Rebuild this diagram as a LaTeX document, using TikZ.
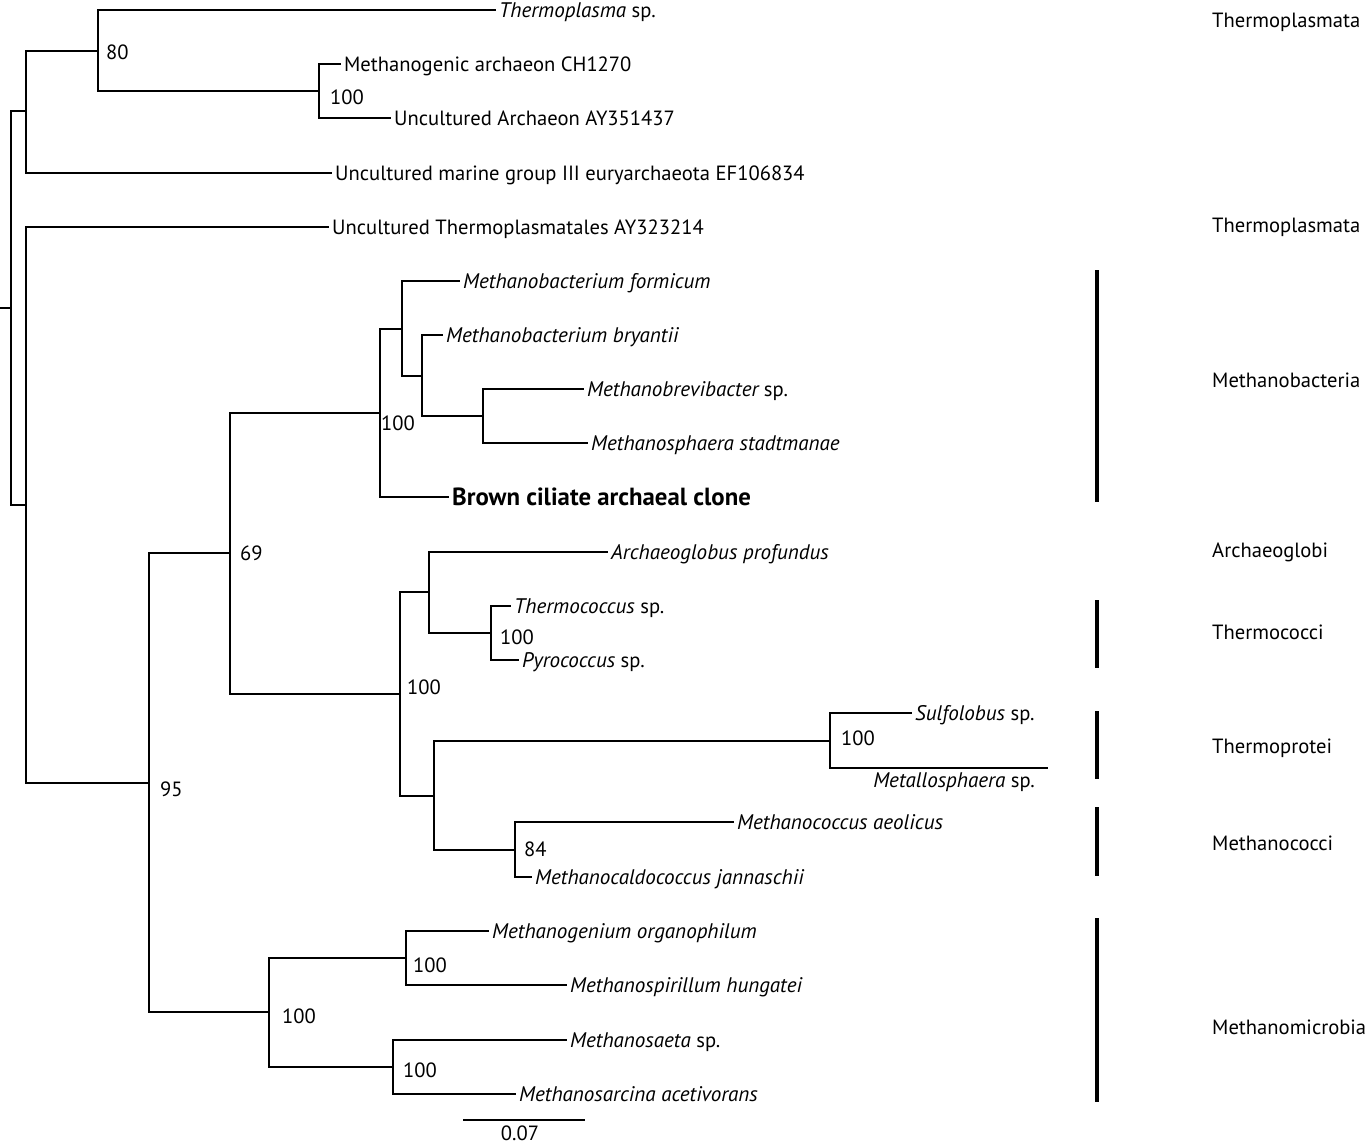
\documentclass[tikz,border=0pt]{standalone}
\usepackage{fontspec}
\setmainfont{PT Sans}
\newcommand{\gen}[1]{{\fontsize{21.1}{24}\selectfont\itshape #1}}
\begin{document}
\begin{tikzpicture}[x=1pt,y=-1pt,
  br/.style={line width=1.4pt, line cap=rect},
  leaf/.style={anchor=base west, inner xsep=4pt, inner ysep=0pt, yshift=-7pt, font=\fontsize{20.6}{24}\selectfont},
  bs/.style={anchor=west, inner sep=0pt, font=\fontsize{20.6}{24}\selectfont},
  grp/.style={anchor=west, inner sep=0pt, font=\fontsize{20.6}{24}\selectfont},
  bar/.style={line width=3.6pt}]
\useasboundingbox (0,0) rectangle (1370,1144);
% internal nodes
\coordinate (stub) at (0,308);
\coordinate (root) at (11,308);
\coordinate (nA) at (26,111);
\coordinate (n80) at (98,51);
\coordinate (nCH) at (319,91);
\coordinate (nB) at (26,505);
\coordinate (n95) at (149,783);
\coordinate (n69) at (230,553);
\coordinate (nMB) at (380,413);
\coordinate (nMB1) at (402,329);
\coordinate (nMB2) at (422,376);
\coordinate (nMB3) at (483,416);
\coordinate (nL) at (400,694);
\coordinate (nAr) at (429,592);
\coordinate (nTc) at (491,633);
\coordinate (nLo) at (434,796);
\coordinate (nSu) at (830,741);
\coordinate (nMc) at (515,850);
\coordinate (nMm) at (269,1012);
\coordinate (nMm1) at (406,958);
\coordinate (nMm2) at (393,1067);
% leaf ends
\coordinate (eTp) at (495,10);
\coordinate (eCH) at (340,64);
\coordinate (eUA) at (390,118);
\coordinate (eMG) at (331,173);
\coordinate (eUT) at (328,227);
\coordinate (eMf) at (459,281);
\coordinate (eMbr) at (442,335);
\coordinate (eMbv) at (583,389);
\coordinate (eMs) at (587,443);
\coordinate (eBc) at (448,497);
\coordinate (eAp) at (607,552);
\coordinate (eTc) at (510,606);
\coordinate (ePy) at (518,660);
\coordinate (eSu) at (911,713);
\coordinate (eMe) at (1047,768);
\coordinate (eMa) at (733,822);
\coordinate (eMj) at (531,877);
\coordinate (eMo) at (488,931);
\coordinate (eMh) at (566,985);
\coordinate (eMsa) at (566,1040);
\coordinate (eMac) at (515,1094);
% leaf labels
\node[leaf] (lTp) at (eTp) {\gen{Thermoplasma} sp.};
\node[leaf] (lCH) at (eCH) {Methanogenic archaeon CH1270};
\node[leaf] (lUA) at (eUA) {Uncultured Archaeon AY351437};
\node[leaf] (lMG) at (eMG) {Uncultured marine group III euryarchaeota EF106834};
\node[leaf] (lUT) at (eUT) {Uncultured Thermoplasmatales AY323214};
\node[leaf] (lMf) at (eMf) {\gen{Methanobacterium formicum}};
\node[leaf] (lMbr) at (eMbr) {\gen{Methanobacterium bryantii}};
\node[leaf] (lMbv) at (eMbv) {\gen{Methanobrevibacter} sp.};
\node[leaf] (lMs) at (eMs) {\gen{Methanosphaera stadtmanae}};
\node[leaf, yshift=-1pt, font=\fontsize{24.8}{28}\selectfont\bfseries] (lBc) at (eBc) {Brown ciliate archaeal clone};
\node[leaf] (lAp) at (eAp) {\gen{Archaeoglobus profundus}};
\node[leaf] (lTc) at (eTc) {\gen{Thermococcus} sp.};
\node[leaf] (lPy) at (ePy) {\gen{Pyrococcus} sp.};
\node[leaf] (lSu) at (eSu) {\gen{Sulfolobus} sp.};
\node[anchor=north east, inner sep=0pt, font=\fontsize{20.6}{24}\selectfont] (lMe) at ([xshift=-12pt,yshift=-5pt]eMe) {\gen{Metallosphaera} sp.};
\node[leaf] (lMa) at (eMa) {\gen{Methanococcus aeolicus}};
\node[leaf] (lMj) at (eMj) {\gen{Methanocaldococcus jannaschii}};
\node[leaf] (lMo) at (eMo) {\gen{Methanogenium organophilum}};
\node[leaf] (lMh) at (eMh) {\gen{Methanospirillum hungatei}};
\node[leaf] (lMsa) at (eMsa) {\gen{Methanosaeta} sp.};
\node[leaf] (lMac) at (eMac) {\gen{Methanosarcina acetivorans}};
% branches
\draw[br] (stub) -- (root);
\draw[br] (root) |- (nA);
\draw[br] (root) |- (nB);
\draw[br] (nA) |- (n80);
\draw[br] (nA) |- (eMG);
\draw[br] (n80) |- (eTp);
\draw[br] (n80) |- (nCH);
\draw[br] (nCH) |- (eCH);
\draw[br] (nCH) |- (eUA);
\draw[br] (nB) |- (eUT);
\draw[br] (nB) |- (n95);
\draw[br] (n95) |- (n69);
\draw[br] (n95) |- (nMm);
\draw[br] (n69) |- (nMB);
\draw[br] (n69) |- (nL);
\draw[br] (nMB) |- (nMB1);
\draw[br] (nMB) |- (eBc);
\draw[br] (nMB1) |- (eMf);
\draw[br] (nMB1) |- (nMB2);
\draw[br] (nMB2) |- (eMbr);
\draw[br] (nMB2) |- (nMB3);
\draw[br] (nMB3) |- (eMbv);
\draw[br] (nMB3) |- (eMs);
\draw[br] (nL) |- (nAr);
\draw[br] (nL) |- (nLo);
\draw[br] (nAr) |- (eAp);
\draw[br] (nAr) |- (nTc);
\draw[br] (nTc) |- (eTc);
\draw[br] (nTc) |- (ePy);
\draw[br] (nLo) |- (nSu);
\draw[br] (nLo) |- (nMc);
\draw[br] (nSu) |- (eSu);
\draw[br] (nSu) |- (eMe);
\draw[br] (nMc) |- (eMa);
\draw[br] (nMc) |- (eMj);
\draw[br] (nMm) |- (nMm1);
\draw[br] (nMm) |- (nMm2);
\draw[br] (nMm1) |- (eMo);
\draw[br] (nMm1) |- (eMh);
\draw[br] (nMm2) |- (eMsa);
\draw[br] (nMm2) |- (eMac);
% bootstrap values
\node[bs] (b80) at (106,52) {80};
\node[bs] (bCH) at (330,97) {100};
\node[bs] (bMB) at (381,423) {100};
\node[bs] (b69) at (240,553) {69};
\node[bs] (bL) at (407,687) {100};
\node[bs] (bTc) at (500,637) {100};
\node[bs] (bSu) at (841,738) {100};
\node[bs] (b84) at (524,849) {84};
\node[bs] (b95) at (160,789) {95};
\node[bs] (bMm) at (282,1016) {100};
\node[bs] (bMm1) at (413,965) {100};
\node[bs] (bMm2) at (403,1070) {100};
% scale bar
\coordinate (sb1) at (463,1120);
\coordinate (sb2) at (585,1120);
\draw[br, line cap=butt] (sb1) -- (sb2);
\node[bs, anchor=center] (sbl) at (520,1133) {0.07};
% group bars
\coordinate (g1a) at (1097,270); \coordinate (g1b) at (1097,502);
\coordinate (g2a) at (1097,600); \coordinate (g2b) at (1097,668);
\coordinate (g3a) at (1097,711); \coordinate (g3b) at (1097,779);
\coordinate (g4a) at (1097,807); \coordinate (g4b) at (1097,876);
\coordinate (g5a) at (1097,918); \coordinate (g5b) at (1097,1102);
\draw[bar] (g1a) -- (g1b);
\draw[bar] (g2a) -- (g2b);
\draw[bar] (g3a) -- (g3b);
\draw[bar] (g4a) -- (g4b);
\draw[bar] (g5a) -- (g5b);
% group labels
\node[grp] (gT1) at (1212,22) {Thermoplasmata};
\node[grp] (gT2) at (1212,227) {Thermoplasmata};
\node[grp] (gMB) at (1212,380) {Methanobacteria};
\node[grp] (gAG) at (1212,552) {Archaeoglobi};
\node[grp] (gTC) at (1212,632) {Thermococci};
\node[grp] (gTP) at (1212,748) {Thermoprotei};
\node[grp] (gMC) at (1212,843) {Methanococci};
\node[grp] (gMM) at (1212,1027) {Methanomicrobia};
\end{tikzpicture}
\end{document}
